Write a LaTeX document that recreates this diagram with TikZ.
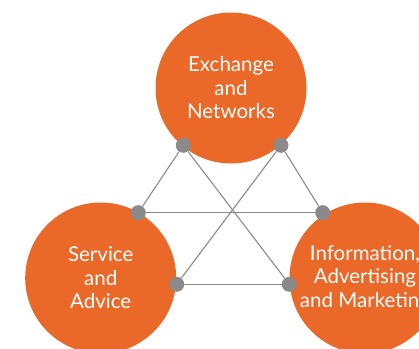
\documentclass[tikz,border=0pt]{standalone}
\usepackage{fontspec}
\setmainfont{Lato}
\definecolor{hubOrange}{HTML}{EA6828}
\definecolor{linkGray}{HTML}{8A8A8A}

\begin{document}
\begin{tikzpicture}[x=1pt, y=-1pt,
  hub/.style = {circle, fill=hubOrange, minimum size=151pt, inner sep=0pt, text=white, align=center, font=\fontsize{20.5}{23.5}\selectfont},
  joint/.style = {circle, fill=linkGray, minimum size=15pt, inner sep=0pt},
  link/.style = {draw=linkGray, line width=1.1pt}]
\useasboundingbox (0,0) rectangle (419,348);
\clip (0,0) rectangle (419,348);
\node[hub](h1) at (231,88){Exchange\\and\\Networks};
\node[hub](h2) at (100.7,278){Service\\and\\Advice};
\node[hub](h3) at (365,278){Information,\\Advertising\\and Marketing};
\node[joint](d1) at (183.3,145.3){};
\node[joint](d2) at (281,145.3){};
\node[joint](d3) at (138.3,212.7){};
\node[joint](d4) at (322.7,212.7){};
\node[joint](d5) at (176.7,284.3){};
\node[joint](d6) at (289.3,284.3){};
\draw[link] (d1) -- (d3);
\draw[link] (d1) -- (d6);
\draw[link] (d2) -- (d4);
\draw[link] (d2) -- (d5);
\draw[link] (d3) -- (d4);
\draw[link] (d5) -- (d6);
\end{tikzpicture}
\end{document}
